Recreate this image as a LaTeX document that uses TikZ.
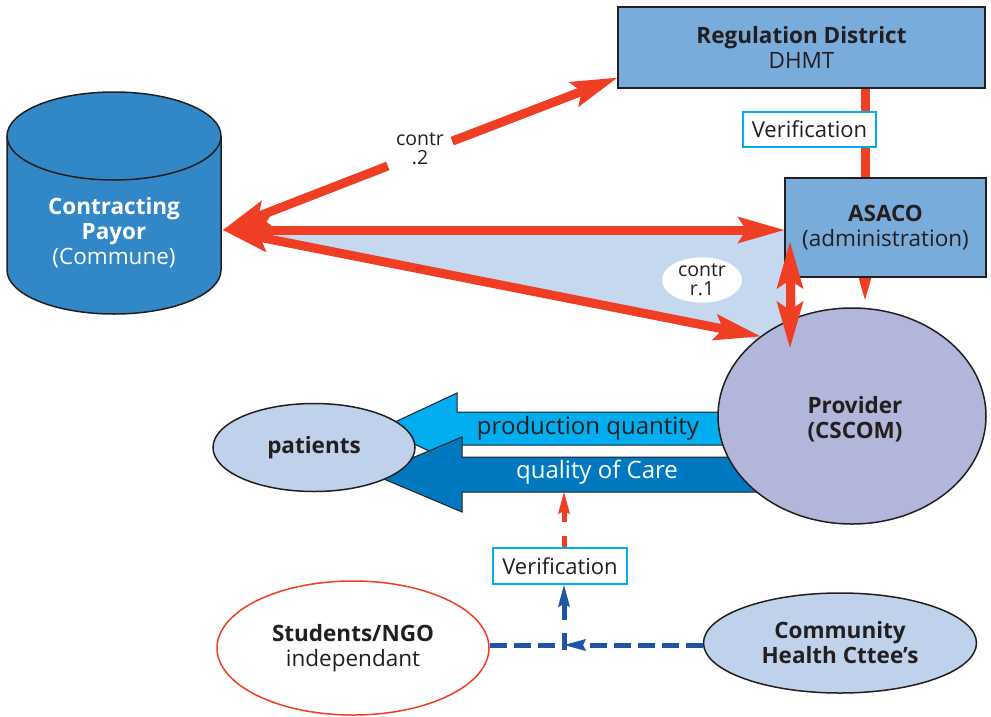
\documentclass[tikz,border=0pt]{standalone}
\usepackage{fontspec}
\setmainfont{Open Sans}
\usetikzlibrary{arrows.meta,shapes.geometric,calc}
\definecolor{redc}{RGB}{239,62,35}
\definecolor{cylblue}{RGB}{50,135,199}
\definecolor{boxblue}{RGB}{122,172,219}
\definecolor{cyanb}{RGB}{0,174,239}
\definecolor{lightfill}{RGB}{198,216,239}
\definecolor{provfill}{RGB}{177,182,218}
\definecolor{ellfill}{RGB}{192,210,235}
\definecolor{darkb}{RGB}{0,121,193}
\definecolor{dashblue}{RGB}{31,84,164}
\definecolor{ink}{RGB}{35,31,32}
\pgfdeclarelayer{bg}
\pgfdeclarelayer{lines}
\pgfdeclarelayer{front}
\pgfsetlayers{bg,lines,main,front}
\tikzset{
  redhead/.tip={Stealth[length=47pt,width=27pt,inset=9pt,line width=0pt]},
  smallhead/.tip={Stealth[length=22pt,width=12pt,inset=3pt,line width=0pt]},
  bigred/.style={draw=redc,line width=9pt},
  txt/.style={font=\fontsize{22.5}{25}\selectfont,text=ink,align=center},
  btxt/.style={font=\fontsize{22.5}{25}\selectfont\bfseries,text=ink,align=center},
  arrtxt/.style={font=\fontsize{24}{26}\selectfont,text=ink,align=center},
  smalltxt/.style={font=\fontsize{19.5}{19}\selectfont,text=ink,align=center},
  bluebox/.style={draw=ink,line width=1.5pt,fill=boxblue,inner sep=0pt},
  verbox/.style={draw=cyanb,line width=2pt,fill=white,inner sep=0pt},
  oval/.style={ellipse,draw=ink,line width=1.5pt,inner sep=0pt},
  bluedash/.style={draw=dashblue,line width=5pt},
  reddash/.style={draw=redc,line width=5pt,dash pattern=on 11pt off 14pt}
}
\begin{document}
\begin{tikzpicture}[x=1pt,y=-1pt]
\useasboundingbox (0,0) rectangle (991,716);

% ---------- main-layer nodes ----------
\node[bluebox,txt,minimum width=367pt,minimum height=81pt] (reg) at (801.5,47.5)
  {\textbf{Regulation District}\\DHMT};
\node[bluebox,txt,minimum width=201pt,minimum height=99pt] (asaco) at (885.5,227.5)
  {\textbf{ASACO}\\(administration)};
\node[verbox,txt,font=\fontsize{22}{24}\selectfont,minimum width=133pt,minimum height=35pt] (ver1) at (809.5,129.5) {Verification};
\node[verbox,txt,font=\fontsize{22}{24}\selectfont,minimum width=134pt,minimum height=36pt] (ver2) at (560,566) {Verification};
\node[ellipse,draw=redc,line width=1.5pt,fill=white,inner sep=0pt,
      minimum width=272pt,minimum height=134pt,txt] (students) at (353,648)
  {\textbf{Students/NGO}\\independant};
\node[oval,fill=ellfill,minimum width=273pt,minimum height=100pt,btxt] (community) at (840,643)
  {Community\\Health Cttee’s};
\node[ellipse,fill=white,inner sep=0pt,minimum width=80pt,minimum height=44pt,smalltxt] (contr1) at (702,280)
  {contr\\r.1};
\node[txt,text=white] (payor) at (114,233) {\textbf{Contracting}\\\textbf{Payor}\\(Commune)};
\node[arrtxt] (pq) at (588,428) {production quantity};
\node[arrtxt,text=white] (qc) at (597,472) {quality of Care};
\node[minimum width=64pt,minimum height=40pt,inner sep=0pt] (c2) at (420,153.5) {};
\node[smalltxt] (c2t) at (420,149) {contr\\.2};
\node[btxt] (provtxt) at (855,419) {Provider\\(CSCOM)};

% ---------- background ----------
\begin{pgfonlayer}{bg}
\coordinate (payorE) at (223,230);
\fill[lightfill] (payorE) -- (payorE -| asaco.west) -- (asaco.south west) -- ++(12,0) -- (797,330) -- (757,340) -- cycle;
\filldraw[fill=cyanb,draw=ink,line width=1pt]
  (381,428.5) -- (457,393) -- (457,412) -- (745,412) -- (745,445) -- (457,445) -- (457,464) -- cycle;
\filldraw[fill=darkb,draw=ink,line width=1pt]
  (373,474.5) -- (462,437) -- (462,457) -- (770,457) -- (770,492) -- (462,492) -- (462,512) -- cycle;
\node[oval,fill=ellfill,minimum width=202pt,minimum height=88pt,btxt] (patients) at (314,447.5) {patients};
\node[oval,fill=provfill,minimum width=268pt,minimum height=216pt] (provider) at (852,416) {};
\filldraw[fill=cylblue,draw=ink,line width=1.5pt]
  (7,136) -- (7,270) arc[start angle=180,end angle=360,x radius=107pt,y radius=44pt]
  -- (221,136) arc[start angle=0,end angle=180,x radius=107pt,y radius=44pt] -- cycle;
\draw[ink,line width=1.5pt] (7,136) arc[start angle=180,end angle=360,x radius=107pt,y radius=44pt];
\end{pgfonlayer}

% ---------- red connectors under the boxes ----------
\begin{pgfonlayer}{lines}
\coordinate (regW) at ($(reg.south west)+(0,-11)$);
\coordinate (vx) at (865,300);
\draw[bigred,-redhead] (c2) -- (payorE);
\draw[bigred,-redhead] (c2) -- (regW);
\draw[bigred,redhead-redhead] (payorE) -- (payorE -| asaco.west);
\draw[bigred,redhead-redhead] (payorE) -- (provider.139);
\draw[bigred,-redhead] (reg.south -| vx) -- (vx);
\end{pgfonlayer}

% ---------- double arrow ASACO <-> Provider ----------
\begin{pgfonlayer}{front}
\coordinate (dtop) at (790,242);
\coordinate (dbot) at (790,348);
\draw[bigred,redhead-redhead] (dtop) -- (dbot);
\end{pgfonlayer}

% ---------- dashed verification connectors ----------
\coordinate (junc) at (564,645);
\coordinate (jlow) at (564,650);
\coordinate (qtop) at (564,492);
\draw[bluedash,dash pattern=on 17pt off 7pt,-smallhead] (junc -| community.west) -- (junc);
\draw[bluedash,dash pattern=on 17pt off 7pt] (junc -| students.east) -- (junc);
\draw[bluedash,dash pattern=on 17pt off 13pt,-smallhead] (jlow) -- (ver2.south -| junc);
\draw[reddash,-smallhead] (ver2.north -| junc) -- (qtop);
\end{tikzpicture}
\end{document}
